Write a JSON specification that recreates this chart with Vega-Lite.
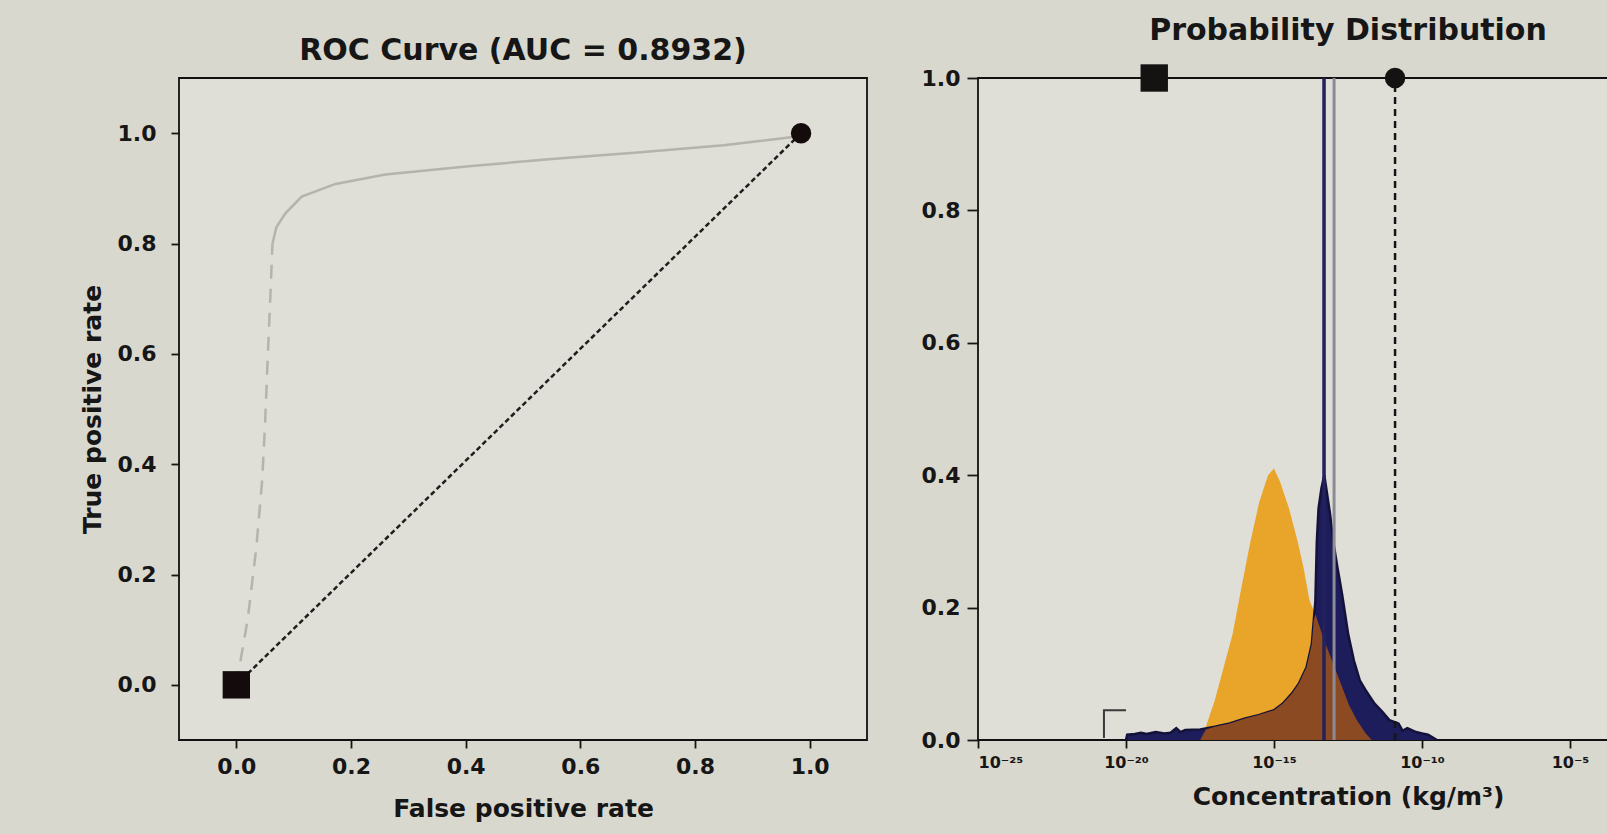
{
  "$schema": "https://vega.github.io/schema/vega-lite/v6.json",
  "background": "#d9d8cf",
  "padding": {"left": 79, "top": 15, "right": 0, "bottom": 30},
  "spacing": 52,
  "config": {
    "font": "DejaVu Sans",
    "view": {"stroke": "#111111", "strokeWidth": 1.8, "fill": "#dfded7"},
    "title": {"fontSize": 30, "fontWeight": "bold", "color": "#161616", "offset": 18},
    "axis": {
      "domain": false, "grid": false, "tickColor": "#161616", "tickWidth": 1.8, "tickSize": 8,
      "labelColor": "#161616", "labelFontSize": 22, "labelFontWeight": "bold", "labelPadding": 8,
      "titleColor": "#161616", "titleFontSize": 25, "titleFontWeight": "bold", "titlePadding": 12
    }
  },
  "datasets": {
    "roc": [
      {"part": "low", "fpr": 0.0, "tpr": 0.0},
      {"part": "low", "fpr": 0.02, "tpr": 0.12},
      {"part": "low", "fpr": 0.035, "tpr": 0.25},
      {"part": "low", "fpr": 0.045, "tpr": 0.37},
      {"part": "low", "fpr": 0.05, "tpr": 0.47},
      {"part": "low", "fpr": 0.055, "tpr": 0.6},
      {"part": "low", "fpr": 0.06, "tpr": 0.72},
      {"part": "low", "fpr": 0.063, "tpr": 0.8},
      {"part": "high", "fpr": 0.063, "tpr": 0.8},
      {"part": "high", "fpr": 0.07, "tpr": 0.83},
      {"part": "high", "fpr": 0.086, "tpr": 0.855},
      {"part": "high", "fpr": 0.114, "tpr": 0.885},
      {"part": "high", "fpr": 0.173, "tpr": 0.908},
      {"part": "high", "fpr": 0.26, "tpr": 0.925},
      {"part": "high", "fpr": 0.405, "tpr": 0.94},
      {"part": "high", "fpr": 0.55, "tpr": 0.953},
      {"part": "high", "fpr": 0.7, "tpr": 0.965},
      {"part": "high", "fpr": 0.85, "tpr": 0.978},
      {"part": "high", "fpr": 0.985, "tpr": 0.995}
    ],
    "diag": [
      {"fpr": 0.0, "tpr": 0.0},
      {"fpr": 0.985, "tpr": 1.0}
    ],
    "rocpts": [
      {"shape": "square", "fpr": 0.0, "tpr": 0.0},
      {"shape": "circle", "fpr": 0.985, "tpr": 1.0}
    ],
    "hist": [
      {"series": "orange", "conc": 3.2e-18, "p": 0.0},
      {"series": "orange", "conc": 5.0e-18, "p": 0.02},
      {"series": "orange", "conc": 1.0e-17, "p": 0.06},
      {"series": "orange", "conc": 2.0e-17, "p": 0.11},
      {"series": "orange", "conc": 4.0e-17, "p": 0.16},
      {"series": "orange", "conc": 7.9e-17, "p": 0.23},
      {"series": "orange", "conc": 1.6e-16, "p": 0.3},
      {"series": "orange", "conc": 3.2e-16, "p": 0.36},
      {"series": "orange", "conc": 6.3e-16, "p": 0.4},
      {"series": "orange", "conc": 1.0e-15, "p": 0.41},
      {"series": "orange", "conc": 1.6e-15, "p": 0.39},
      {"series": "orange", "conc": 3.2e-15, "p": 0.35},
      {"series": "orange", "conc": 6.3e-15, "p": 0.3},
      {"series": "orange", "conc": 1.0e-14, "p": 0.26},
      {"series": "orange", "conc": 1.6e-14, "p": 0.21},
      {"series": "orange", "conc": 2.5e-14, "p": 0.19},
      {"series": "orange", "conc": 5.0e-14, "p": 0.15},
      {"series": "orange", "conc": 1.0e-13, "p": 0.115},
      {"series": "orange", "conc": 2.0e-13, "p": 0.08},
      {"series": "orange", "conc": 3.4e-13, "p": 0.053},
      {"series": "orange", "conc": 6.3e-13, "p": 0.03},
      {"series": "orange", "conc": 1.26e-12, "p": 0.01},
      {"series": "orange", "conc": 2.0e-12, "p": 0.0},

      {"series": "navy", "conc": 1.0e-20, "p": 0.0},
      {"series": "navy", "conc": 1.1e-20, "p": 0.008},
      {"series": "navy", "conc": 2.0e-20, "p": 0.009},
      {"series": "navy", "conc": 3.2e-20, "p": 0.011},
      {"series": "navy", "conc": 5.0e-20, "p": 0.009},
      {"series": "navy", "conc": 1.0e-19, "p": 0.012},
      {"series": "navy", "conc": 2.0e-19, "p": 0.01},
      {"series": "navy", "conc": 3.2e-19, "p": 0.011},
      {"series": "navy", "conc": 5.0e-19, "p": 0.018},
      {"series": "navy", "conc": 7.0e-19, "p": 0.012},
      {"series": "navy", "conc": 1.0e-18, "p": 0.015},
      {"series": "navy", "conc": 3.2e-18, "p": 0.016},
      {"series": "navy", "conc": 1.0e-17, "p": 0.02},
      {"series": "navy", "conc": 3.2e-17, "p": 0.025},
      {"series": "navy", "conc": 1.0e-16, "p": 0.032},
      {"series": "navy", "conc": 3.2e-16, "p": 0.038},
      {"series": "navy", "conc": 1.0e-15, "p": 0.045},
      {"series": "navy", "conc": 2.0e-15, "p": 0.055},
      {"series": "navy", "conc": 4.0e-15, "p": 0.07},
      {"series": "navy", "conc": 6.9e-15, "p": 0.085},
      {"series": "navy", "conc": 1.26e-14, "p": 0.11},
      {"series": "navy", "conc": 1.9e-14, "p": 0.145},
      {"series": "navy", "conc": 2.5e-14, "p": 0.21},
      {"series": "navy", "conc": 2.8e-14, "p": 0.3},
      {"series": "navy", "conc": 3.2e-14, "p": 0.35},
      {"series": "navy", "conc": 4.0e-14, "p": 0.38},
      {"series": "navy", "conc": 5.0e-14, "p": 0.4},
      {"series": "navy", "conc": 6.3e-14, "p": 0.37},
      {"series": "navy", "conc": 7.9e-14, "p": 0.34},
      {"series": "navy", "conc": 1.0e-13, "p": 0.3},
      {"series": "navy", "conc": 1.4e-13, "p": 0.26},
      {"series": "navy", "conc": 2.0e-13, "p": 0.22},
      {"series": "navy", "conc": 3.2e-13, "p": 0.16},
      {"series": "navy", "conc": 5.0e-13, "p": 0.12},
      {"series": "navy", "conc": 7.9e-13, "p": 0.09},
      {"series": "navy", "conc": 1.26e-12, "p": 0.075},
      {"series": "navy", "conc": 2.5e-12, "p": 0.055},
      {"series": "navy", "conc": 4.5e-12, "p": 0.043},
      {"series": "navy", "conc": 7.9e-12, "p": 0.03},
      {"series": "navy", "conc": 1.6e-11, "p": 0.025},
      {"series": "navy", "conc": 2.2e-11, "p": 0.014},
      {"series": "navy", "conc": 3.2e-11, "p": 0.018},
      {"series": "navy", "conc": 6.3e-11, "p": 0.012},
      {"series": "navy", "conc": 1.0e-10, "p": 0.01},
      {"series": "navy", "conc": 1.6e-10, "p": 0.008},
      {"series": "navy", "conc": 3.2e-10, "p": 0.0},

      {"series": "overlap", "conc": 3.2e-18, "p": 0.0},
      {"series": "overlap", "conc": 5.0e-18, "p": 0.016},
      {"series": "overlap", "conc": 1.0e-17, "p": 0.02},
      {"series": "overlap", "conc": 3.2e-17, "p": 0.025},
      {"series": "overlap", "conc": 1.0e-16, "p": 0.032},
      {"series": "overlap", "conc": 3.2e-16, "p": 0.038},
      {"series": "overlap", "conc": 1.0e-15, "p": 0.045},
      {"series": "overlap", "conc": 2.0e-15, "p": 0.055},
      {"series": "overlap", "conc": 4.0e-15, "p": 0.07},
      {"series": "overlap", "conc": 6.9e-15, "p": 0.085},
      {"series": "overlap", "conc": 1.26e-14, "p": 0.11},
      {"series": "overlap", "conc": 1.9e-14, "p": 0.145},
      {"series": "overlap", "conc": 2.2e-14, "p": 0.18},
      {"series": "overlap", "conc": 2.5e-14, "p": 0.19},
      {"series": "overlap", "conc": 5.0e-14, "p": 0.15},
      {"series": "overlap", "conc": 1.0e-13, "p": 0.115},
      {"series": "overlap", "conc": 2.0e-13, "p": 0.08},
      {"series": "overlap", "conc": 3.4e-13, "p": 0.053},
      {"series": "overlap", "conc": 6.3e-13, "p": 0.03},
      {"series": "overlap", "conc": 1.26e-12, "p": 0.01},
      {"series": "overlap", "conc": 2.0e-12, "p": 0.0}
    ],
    "vlines": [
      {"kind": "spike", "conc": 4.9e-14, "p0": 0.0, "p1": 1.0},
      {"kind": "grey", "conc": 1.07e-13, "p0": 0.0, "p1": 1.0},
      {"kind": "dashed", "conc": 1.23e-11, "p0": 0.0, "p1": 1.0}
    ],
    "rightpts": [
      {"shape": "square", "conc": 9.0e-20, "p": 1.0},
      {"shape": "circle", "conc": 1.23e-11, "p": 1.0}
    ],
    "bracket": [
      {"step": 1, "conc": 1.8e-21, "p": 0.003},
      {"step": 2, "conc": 1.8e-21, "p": 0.045},
      {"step": 3, "conc": 1.0e-20, "p": 0.045}
    ]
  },
  "hconcat": [
    {
      "width": 688,
      "height": 662,
      "title": {"text": "ROC Curve (AUC = 0.8932)", "dy": 6},
      "layer": [
        {
          "data": {"name": "roc"},
          "transform": [{"filter": "datum.part === 'low'"}],
          "mark": {"type": "line", "color": "#b5b3ac", "strokeWidth": 2.5, "strokeDash": [14, 10]},
          "encoding": {
            "x": {"field": "fpr", "type": "quantitative", "scale": {"domain": [-0.1, 1.1], "nice": false, "zero": false},
                  "axis": {"values": [0, 0.2, 0.4, 0.6, 0.8, 1.0], "format": ".1f", "title": "False positive rate", "titlePadding": 19}},
            "y": {"field": "tpr", "type": "quantitative", "scale": {"domain": [-0.1, 1.1], "nice": false, "zero": false},
                  "axis": {"values": [0, 0.2, 0.4, 0.6, 0.8, 1.0], "format": ".1f", "title": "True positive rate", "labelPadding": 15}}
          }
        },
        {
          "data": {"name": "roc"},
          "transform": [{"filter": "datum.part === 'high'"}],
          "mark": {"type": "line", "color": "#b5b3ac", "strokeWidth": 2.5},
          "encoding": {
            "x": {"field": "fpr", "type": "quantitative"},
            "y": {"field": "tpr", "type": "quantitative"}
          }
        },
        {
          "data": {"name": "diag"},
          "mark": {"type": "line", "color": "#1e1e1e", "strokeWidth": 2.5, "strokeDash": [5, 3]},
          "encoding": {
            "x": {"field": "fpr", "type": "quantitative"},
            "y": {"field": "tpr", "type": "quantitative"}
          }
        },
        {
          "data": {"name": "rocpts"},
          "mark": {"type": "point", "filled": true, "color": "#140c0c", "opacity": 1},
          "encoding": {
            "x": {"field": "fpr", "type": "quantitative"},
            "y": {"field": "tpr", "type": "quantitative"},
            "shape": {"field": "shape", "type": "nominal", "scale": {"domain": ["square", "circle"], "range": ["square", "circle"]}, "legend": null},
            "size": {"field": "shape", "type": "nominal", "scale": {"domain": ["square", "circle"], "range": [750, 420]}, "legend": null}
          }
        }
      ]
    },
    {
      "width": 740,
      "height": 662,
      "title": "Probability Distribution",
      "layer": [
        {
          "data": {"name": "hist"},
          "transform": [{"filter": "datum.series === 'orange'"}],
          "mark": {"type": "area", "color": "#e9a42a", "opacity": 1, "fillOpacity": 1},
          "encoding": {
            "x": {"field": "conc", "type": "quantitative",
                  "scale": {"type": "log", "domain": [1e-25, 1], "nice": false},
                  "axis": {"values": [1e-25, 1e-20, 1e-15, 1e-10, 1e-5], "labelFontSize": 16, "labelPadding": 6,
                           "labelExpr": "datum.value < 1e-24 ? '10⁻²⁵' : datum.value < 1e-19 ? '10⁻²⁰' : datum.value < 1e-14 ? '10⁻¹⁵' : datum.value < 1e-9 ? '10⁻¹⁰' : '10⁻⁵'",
                           "title": "Concentration (kg/m³)", "titlePadding": 14}},
            "y": {"field": "p", "type": "quantitative", "scale": {"domain": [0, 1], "nice": false},
                  "axis": {"values": [0, 0.2, 0.4, 0.6, 0.8, 1.0], "format": ".1f", "title": null, "tickSize": 11, "labelPadding": 7}}
          }
        },
        {
          "data": {"name": "hist"},
          "transform": [{"filter": "datum.series === 'navy'"}],
          "mark": {"type": "area", "color": "#1e1d5c", "opacity": 1, "fillOpacity": 1, "line": {"color": "#141238", "strokeWidth": 2.5}},
          "encoding": {
            "x": {"field": "conc", "type": "quantitative"},
            "y": {"field": "p", "type": "quantitative"}
          }
        },
        {
          "data": {"name": "hist"},
          "transform": [{"filter": "datum.series === 'overlap'"}],
          "mark": {"type": "area", "color": "#8c4a22", "opacity": 1, "fillOpacity": 1},
          "encoding": {
            "x": {"field": "conc", "type": "quantitative"},
            "y": {"field": "p", "type": "quantitative"}
          }
        },
        {
          "data": {"name": "vlines"},
          "mark": {"type": "rule"},
          "encoding": {
            "x": {"field": "conc", "type": "quantitative"},
            "y": {"field": "p0", "type": "quantitative"},
            "y2": {"field": "p1"},
            "color": {"field": "kind", "type": "nominal", "scale": {"domain": ["spike", "grey", "dashed"], "range": ["#23215e", "#8c8c98", "#151515"]}, "legend": null},
            "strokeWidth": {"field": "kind", "type": "nominal", "scale": {"domain": ["spike", "grey", "dashed"], "range": [3.5, 2.5, 3.5]}, "legend": null},
            "strokeDash": {"field": "kind", "type": "nominal", "scale": {"domain": ["spike", "grey", "dashed"], "range": [[1, 0], [1, 0], [7, 5]]}, "legend": null}
          }
        },
        {
          "data": {"name": "bracket"},
          "mark": {"type": "line", "color": "#3a3a3a", "strokeWidth": 2},
          "encoding": {
            "x": {"field": "conc", "type": "quantitative"},
            "y": {"field": "p", "type": "quantitative"},
            "order": {"field": "step", "type": "quantitative"}
          }
        },
        {
          "data": {"name": "rightpts"},
          "mark": {"type": "point", "filled": true, "color": "#151212", "opacity": 1},
          "encoding": {
            "x": {"field": "conc", "type": "quantitative"},
            "y": {"field": "p", "type": "quantitative"},
            "shape": {"field": "shape", "type": "nominal", "scale": {"domain": ["square", "circle"], "range": ["square", "circle"]}, "legend": null},
            "size": {"field": "shape", "type": "nominal", "scale": {"domain": ["square", "circle"], "range": [750, 250]}, "legend": null}
          }
        }
      ]
    }
  ]
}
